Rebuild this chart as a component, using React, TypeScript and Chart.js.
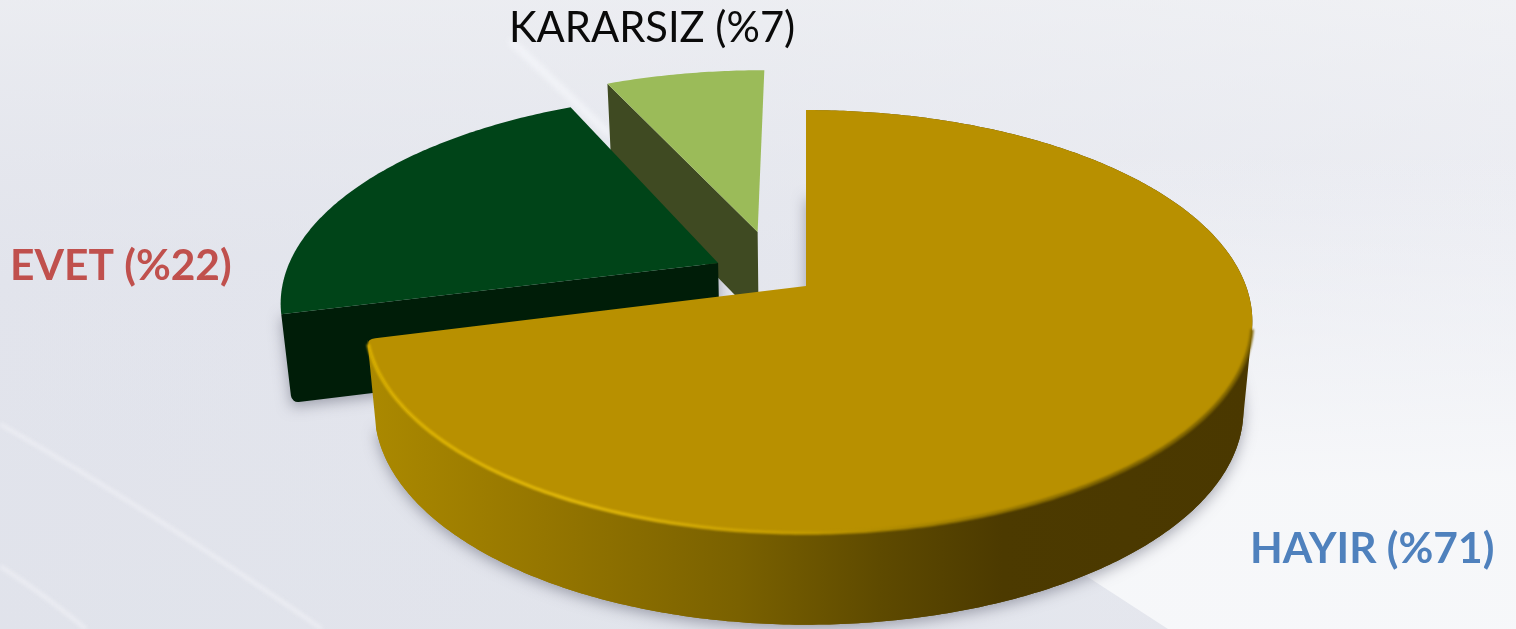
import React, { useEffect, useRef } from "react";
import { Chart, registerables } from "chart.js";

Chart.register(...registerables);

const categories = ["HAYIR", "EVET", "KARARSIZ"];
const shares = [71, 22, 7];
const labelTexts = ["HAYIR (%71)", "EVET (%22)", "KARARSIZ (%7)"];
const topColors = ["#b89000", "#004418", "#9bbb59"];
const cutColors = ["#4b3900", "#001d08", "#3f4a22"];
const labelColors = ["#4f81bd", "#c0504d", "#0a0a0a"];
const labelWeights = ["bold", "bold", "normal"];
const labelSizes = [42.5, 42.5, 41.7];
const labelAnchors = [[1250, 563], [10, 280], [509, 42]];
const explodeU = [0, -0.205, -0.115];
const explodeV = [0, -0.114, -0.275];
const leftReach = [434, 437, 440];

const CX = 806, CY = 286, B = 440, A = 205.5, P = 0.168;

type Pt = { x: number; y: number };

function project(u: number, v: number, bl: number): Pt {
  const d = 1 - P * v;
  return { x: CX + ((u < 0 ? bl : B) * u) / d, y: CY + (A * v) / d };
}
function lower(p: Pt): Pt {
  return { x: CX + (p.x - CX) * 0.98, y: p.y + 88 + (p.y - CY) * 0.015 };
}
function arcPts(a0: number, a1: number, eu: number, ev: number, bl: number) {
  const n = Math.max(4, Math.ceil((a1 - a0) * 90));
  const pts: Pt[] = [];
  for (let i = 0; i <= n; i++) {
    const a = a0 + ((a1 - a0) * i) / n;
    pts.push(project(Math.cos(a) + eu, Math.sin(a) + ev, bl));
  }
  return pts;
}
function poly(ctx: CanvasRenderingContext2D, pts: Pt[]) {
  ctx.beginPath();
  pts.forEach((p, i) => (i ? ctx.lineTo(p.x, p.y) : ctx.moveTo(p.x, p.y)));
  ctx.closePath();
}
function wallPath(ctx: CanvasRenderingContext2D, rim: Pt[], low: Pt[]) {
  ctx.beginPath();
  for (let k = 0; k < rim.length - 1; k++) {
    const q = [rim[k], rim[k + 1], low[k + 1], low[k]];
    let area = 0;
    q.forEach((p, j) => {
      const r = q[(j + 1) % 4];
      area += p.x * r.y - r.x * p.y;
    });
    if (area < 0) q.reverse();
    q.forEach((p, j) => (j ? ctx.lineTo(p.x, p.y) : ctx.moveTo(p.x, p.y)));
    ctx.closePath();
  }
}

const backdrop = {
  id: "backdrop",
  beforeDraw(chart: any) {
    const ctx: CanvasRenderingContext2D = chart.ctx;
    const { width: w, height: h } = chart;
    ctx.save();
    let g = ctx.createLinearGradient(0, 0, w, 0);
    g.addColorStop(0, "#e3e5ec");
    g.addColorStop(0.5, "#e6e8ee");
    g.addColorStop(1, "#f0f1f5");
    ctx.fillStyle = g;
    ctx.fillRect(0, 0, w, h);
    g = ctx.createLinearGradient(0, 0, 0, h);
    g.addColorStop(0, "rgba(240,241,244,0.6)");
    g.addColorStop(0.45, "rgba(224,226,236,0.35)");
    g.addColorStop(1, "rgba(222,225,234,0.5)");
    ctx.fillStyle = g;
    ctx.fillRect(0, 0, w, h);
    g = ctx.createLinearGradient(0, 150, 0, 480);
    g.addColorStop(0, "rgba(246,247,250,0)");
    g.addColorStop(1, "rgba(247,248,250,0.95)");
    ctx.fillStyle = g;
    ctx.beginPath();
    ctx.moveTo(1000, 150);
    ctx.lineTo(w, 150);
    ctx.lineTo(w, h);
    ctx.lineTo(1168, h);
    ctx.lineTo(1000, 520);
    ctx.closePath();
    ctx.fill();
    ctx.filter = "blur(2px)";
    ctx.strokeStyle = "rgba(245,246,250,0.75)";
    ctx.lineWidth = 3;
    ctx.beginPath();
    ctx.moveTo(0, 424);
    ctx.quadraticCurveTo(150, 510, 322, 629);
    ctx.stroke();
    ctx.beginPath();
    ctx.moveTo(0, 566);
    ctx.quadraticCurveTo(45, 595, 86, 629);
    ctx.stroke();
    ctx.filter = "blur(3px)";
    ctx.strokeStyle = "rgba(248,249,252,0.8)";
    ctx.lineWidth = 6;
    ctx.beginPath();
    ctx.moveTo(510, 40);
    ctx.lineTo(610, 135);
    ctx.stroke();
    ctx.restore();
  },
};

const pie3d = {
  id: "pie3d",
  beforeDatasetDraw(chart: any, args: any) {
    const ctx: CanvasRenderingContext2D = chart.ctx;
    const arcs = args.meta.data;
    const shapes = arcs.map((el: any, i: number) => {
      const eu = explodeU[i], ev = explodeV[i];
      const rim = arcPts(el.startAngle, el.endAngle, eu, ev, leftReach[i]);
      const apex = project(eu, ev, leftReach[i]);
      return { rim, apex, low: rim.map(lower), lowApex: lower(apex), start: el.startAngle, end: el.endAngle };
    });
    // soft shadows first, cast by the lower outlines only
    ctx.save();
    ctx.shadowColor = "rgba(85,88,105,0.5)";
    ctx.shadowBlur = 14;
    ctx.shadowOffsetX = 5000;
    ctx.shadowOffsetY = 4;
    ctx.fillStyle = "#000";
    ctx.translate(-5000, 0);
    [0, 1].forEach((i) => {
      const s = shapes[i];
      if (i === 0) {
        poly(ctx, [s.lowApex, ...s.low]);
      } else {
        poly(ctx, [s.rim[0], s.low[0], s.lowApex, s.apex]);
      }
      ctx.fill();
    });
    ctx.restore();

    const wall = ctx.createLinearGradient(368, 0, 1250, 0);
    wall.addColorStop(0, "#ab8900");
    wall.addColorStop(0.2, "#957600");
    wall.addColorStop(0.42, "#7a6100");
    wall.addColorStop(0.58, "#5e4a00");
    wall.addColorStop(0.72, "#4c3a00");
    wall.addColorStop(1, "#4a3800");

    [2, 1, 0].forEach((i) => {
      const s = shapes[i];
      const n = s.rim.length - 1;
      if (i === 0) {
        ctx.fillStyle = wall;
        poly(ctx, [s.lowApex, ...s.low]);
        ctx.fill();
        wallPath(ctx, s.rim, s.low);
        ctx.fill();
      } else {
        ctx.fillStyle = cutColors[i];
        ctx.beginPath();
        ctx.moveTo(s.apex.x, s.apex.y);
        ctx.lineTo(s.rim[0].x, s.rim[0].y);
        ctx.arcTo(s.low[0].x, s.low[0].y, s.lowApex.x, s.lowApex.y, i === 1 ? 7 : 0.01);
        ctx.lineTo(s.lowApex.x, s.lowApex.y);
        ctx.closePath();
        ctx.fill();
      }
      ctx.fillStyle = topColors[i];
      ctx.beginPath();
      ctx.moveTo(s.apex.x, s.apex.y);
      if (i === 0) {
        const stop = n - 2;
        for (let k = 0; k <= stop; k++) ctx.lineTo(s.rim[k].x, s.rim[k].y);
        const c = s.rim[n];
        const dx = s.apex.x - c.x, dy = s.apex.y - c.y, l = Math.hypot(dx, dy);
        ctx.quadraticCurveTo(c.x, c.y, c.x + (dx / l) * 8, c.y + (dy / l) * 8);
      } else {
        for (let k = 0; k <= n; k++) ctx.lineTo(s.rim[k].x, s.rim[k].y);
      }
      ctx.closePath();
      ctx.fill();
      if (i === 0) {
        const bevel = ctx.createLinearGradient(368, 0, 1250, 0);
        bevel.addColorStop(0, "#d9af00");
        bevel.addColorStop(0.25, "#e0b70a");
        bevel.addColorStop(0.5, "#c29a00");
        bevel.addColorStop(0.62, "#a88500");
        bevel.addColorStop(0.85, "#7f6400");
        bevel.addColorStop(1, "#7f6400");
        ctx.save();
        ctx.filter = "blur(1px)";
        ctx.strokeStyle = bevel;
        ctx.lineWidth = 3.5;
        ctx.lineCap = "butt";
        ctx.beginPath();
        const first = Math.round((n * (Math.PI / 2 + 0.2)) / (s.end - s.start));
        for (let k = first; k <= n - 2; k++) {
          const p = s.rim[k];
          k === first ? ctx.moveTo(p.x, p.y) : ctx.lineTo(p.x, p.y);
        }
        ctx.stroke();
        ctx.restore();
      }
    });
    return false;
  },
};

const captions = {
  id: "captions",
  afterDraw(chart: any) {
    const ctx: CanvasRenderingContext2D = chart.ctx;
    ctx.save();
    ctx.textAlign = "left";
    ctx.textBaseline = "alphabetic";
    labelTexts.forEach((t, i) => {
      ctx.font = `${labelWeights[i]} ${labelSizes[i]}px Lato`;
      ctx.fillStyle = labelColors[i];
      ctx.fillText(t, labelAnchors[i][0], labelAnchors[i][1]);
    });
    ctx.restore();
  },
};

export default function App() {
  const ref = useRef<HTMLCanvasElement>(null);
  useEffect(() => {
    document.body.style.margin = "0";
    const chart = new Chart(ref.current!, {
      type: "pie",
      data: {
        labels: categories,
        datasets: [{ data: shares, backgroundColor: topColors, borderWidth: 0 }],
      },
      options: {
        responsive: false,
        animation: false,
        rotation: 0,
        events: [],
        plugins: { legend: { display: false }, tooltip: { enabled: false } },
      },
      plugins: [backdrop, pie3d, captions],
    } as any);
    return () => chart.destroy();
  }, []);
  return <canvas ref={ref} width={1516} height={629} style={{ display: "block" }} />;
}
